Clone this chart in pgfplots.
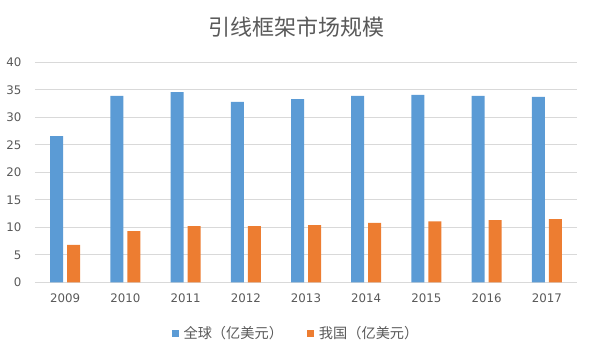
\documentclass[border=0pt]{standalone}
\usepackage{pgfplots}
\pgfplotsset{compat=1.18}
\usepackage{fontspec}
\setmainfont{DejaVu Sans}
\newfontfamily\cjk{Noto Sans CJK SC}
\definecolor{cblue}{HTML}{5B9BD5}
\definecolor{corange}{HTML}{ED7D31}
\definecolor{cgrid}{HTML}{D9D9D9}
\definecolor{ctext}{HTML}{595959}
\begin{document}
\begin{tikzpicture}[x=1pt,y=1pt]
\begin{axis}[
  at={(0pt,0pt)}, anchor=south west,
  scale only axis,
  width=542pt, height=220pt,
  ybar=4pt, bar width=13pt,
  xmin=-0.5, xmax=8.5,
  ymin=0, ymax=40,
  ytick={0,5,...,40},
  xtick={0,...,8},
  xticklabels={2009,2010,2011,2012,2013,2014,2015,2016,2017},
  axis x line*=bottom, axis y line*=left,
  x axis line style={draw=cgrid, line width=0.75pt, -},
  y axis line style={draw=none},
  major tick length=0pt,
  ymajorgrids, grid style={draw=cgrid, line width=0.75pt},
  /pgf/number format/assume math mode=true,
  ticklabel style={font=\fontsize{11.8}{13}\selectfont, text=ctext},
  xticklabel style={anchor=base, yshift=-20pt},
  yticklabel style={anchor=east, xshift=-10pt},
  legend style={draw=none, fill=none, at={(0.4815,-0.232)}, anchor=center,
    legend columns=2, font=\cjk\fontsize{14.2}{16}\selectfont, text=ctext,
    /tikz/every odd column/.append style={column sep=3pt},
    /tikz/every even column/.append style={column sep=22pt}},
  legend image code/.code={\fill[#1,draw=none] (0pt,-3.5pt) rectangle (7pt,3.5pt);},
]
\addplot[fill=cblue, draw=none] coordinates {(0,26.6) (1,33.9) (2,34.6) (3,32.8) (4,33.3) (5,33.9) (6,34.1) (7,33.9) (8,33.7)};
\addplot[fill=corange, draw=none] coordinates {(0,6.8) (1,9.3) (2,10.2) (3,10.2) (4,10.4) (5,10.8) (6,11.1) (7,11.3) (8,11.5)};
\legend{全球（亿美元）,我国（亿美元）}
\end{axis}
\node[font=\cjk\fontsize{22}{24}\selectfont, text=ctext] at (261pt,255.3pt) {引线框架市场规模};
\pgfresetboundingbox
\path[use as bounding box] (-35pt,-76.7pt) rectangle (559pt,282.3pt);
\end{tikzpicture}
\end{document}
